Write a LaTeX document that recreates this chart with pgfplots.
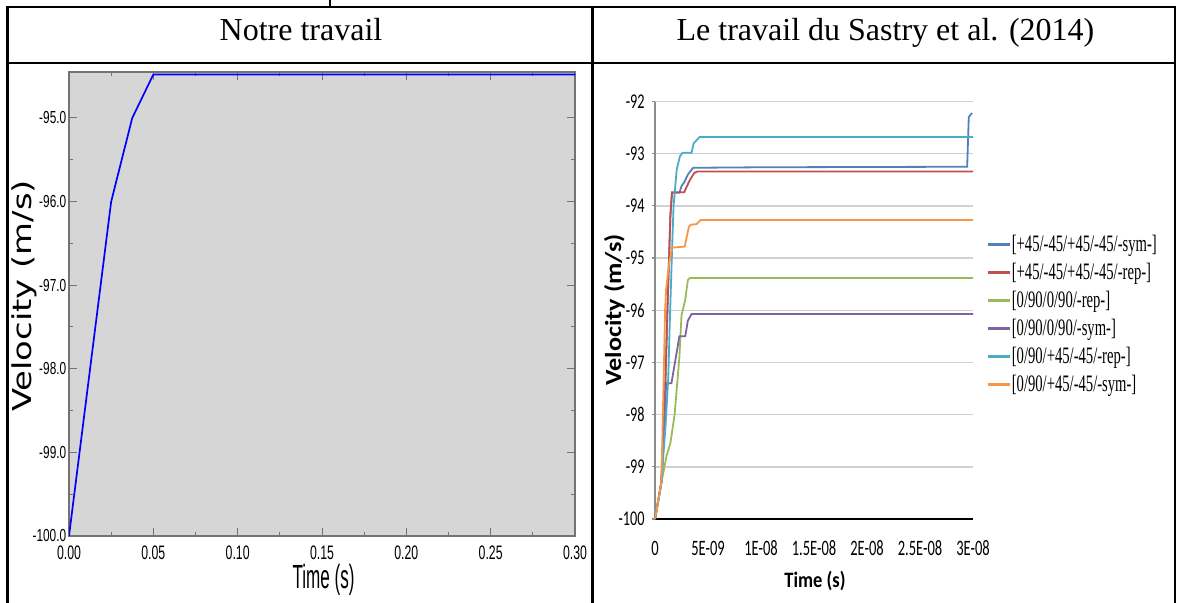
\documentclass[border=0pt]{standalone}
\usepackage{fontspec}
\setmainfont{Liberation Serif}
\usepackage{pgfplots}
\pgfplotsset{compat=1.18}
\newfontfamily\headfam{Liberation Serif}
\newfontfamily\lytickfam[FakeStretch=0.68]{Liberation Sans}
\newfontfamily\lxtickfam[FakeStretch=0.63]{Liberation Sans}
\newfontfamily\ltimefam[FakeStretch=0.51]{Liberation Sans}
\newfontfamily\lvelfam[FakeStretch=1.3]{DejaVu Sans}
\newfontfamily\rytickfam[FakeStretch=0.68]{Carlito}
\newfontfamily\rxtickfam[FakeStretch=0.66]{Carlito}
\newfontfamily\rtimefam[FakeStretch=0.84]{Carlito}
\newfontfamily\rvelfam[FakeStretch=1.14]{Carlito}
\newfontfamily\legfam[FakeStretch=0.62]{Liberation Serif}
\newcommand\lytick{\lytickfam\fontsize{8.7pt}{10pt}\selectfont}
\newcommand\lxtick{\lxtickfam\fontsize{9.75pt}{11pt}\selectfont}
\newcommand\rytick{\rytickfam\fontsize{10.5pt}{12pt}\selectfont}
\newcommand\rxtick{\rxtickfam\fontsize{11pt}{13pt}\selectfont}
\newcommand\legf{\legfam\fontsize{11.8pt}{13pt}\selectfont}
\definecolor{lgray}{HTML}{D6D6D6}
\definecolor{xblue}{HTML}{4F81BD}
\definecolor{xred}{HTML}{C0504D}
\definecolor{xgreen}{HTML}{9BBB59}
\definecolor{xpurple}{HTML}{8064A2}
\definecolor{xcyan}{HTML}{4BACC6}
\definecolor{xorange}{HTML}{F79646}
\begin{document}
\begin{tikzpicture}
\useasboundingbox (0,0) rectangle (588.5pt,-301.5pt);
% table rules
\draw[line width=1.4pt] (3.05pt,-3.5pt) -- (588.2pt,-3.5pt);
\draw[line width=1.4pt] (3.05pt,-31.5pt) -- (588.2pt,-31.5pt);
\draw[line width=1.4pt] (3.75pt,-2.8pt) -- (3.75pt,-301.5pt);
\draw[line width=1.4pt] (296.25pt,-2.8pt) -- (296.25pt,-301.5pt);
\draw[line width=1.4pt] (587.5pt,-2.8pt) -- (587.5pt,-301.5pt);
\draw[line width=1.4pt] (165pt,0pt) -- (165pt,-3.5pt);
\node[anchor=base, inner sep=0pt, font=\headfam\fontsize{16pt}{19pt}\selectfont] at (150.5pt,-20.5pt) {Notre travail};
\node[anchor=base, inner sep=0pt, font=\headfam\fontsize{16pt}{19pt}\selectfont] at (442.75pt,-20.5pt) {Le travail du Sastry et al. (2014)};

% ---------- left chart ----------
\begin{axis}[
  at={(34.5pt,-268pt)}, anchor=south west,
  scale only axis, width=253pt, height=232pt,
  xmin=0, xmax=0.3, ymin=-100, ymax=-94.45,
  axis background/.style={fill=lgray},
  axis line style={draw=black!55, line width=0.6pt},
  xtick={0,0.05,0.1,0.15,0.2,0.25,0.3},
  xticklabels={0.00,0.05,0.10,0.15,0.20,0.25,0.30},
  ytick={-100,-99,-98,-97,-96,-95},
  yticklabels={-100.0,-99.0,-98.0,-97.0,-96.0,-95.0},
  minor x tick num=1, minor y tick num=1,
  tick align=inside,
  major tick length=4pt, minor tick length=2pt,
  every tick/.style={draw=black!55, line width=0.5pt},
  xticklabel style={font=\lxtick, anchor=north, inner sep=0pt, text height=7pt, text depth=0pt, yshift=-4.5pt},
  yticklabel style={font=\lytick, anchor=east, inner sep=0pt, xshift=-1.2pt},
]
\addplot[color={rgb,255:red,0;green,0;blue,255}, line width=0.85pt] coordinates {
  (0,-100) (0.025,-96) (0.0375,-95) (0.05,-94.48) (0.3,-94.48)};
\end{axis}
\node[anchor=base, inner sep=0pt, rotate=90, font=\lvelfam\fontsize{13pt}{15pt}\selectfont] at (16pt,-148pt) {Velocity (m/s)};
\node[anchor=base, inner sep=0pt, font=\ltimefam\fontsize{16.75pt}{19pt}\selectfont] at (161.75pt,-294pt) {Time (s)};

% ---------- right chart ----------
\begin{axis}[
  at={(327.5pt,-259.5pt)}, anchor=south west,
  scale only axis, width=159pt, height=208.75pt,
  xmin=0, xmax=30, ymin=-100, ymax=-92,
  axis x line*=bottom, axis y line*=left,
  x axis line style={draw=black, line width=1pt, -},
  y axis line style={draw=black!45, line width=0.6pt, -},
  ymajorgrids, grid style={draw=black!18, line width=0.7pt},
  xtick={0,5,10,15,20,25,30},
  xticklabels={0,5E-09,1E-08,1.5E-08,2E-08,2.5E-08,3E-08},
  ytick={-100,-99,-98,-97,-96,-95,-94,-93,-92},
  yticklabels={-100,-99,-98,-97,-96,-95,-94,-93,-92},
  xtick style={draw=none},
  ytick style={draw=black!45, line width=0.6pt},
  tick align=outside, major tick length=1.5pt,
  xticklabel style={font=\rxtick, anchor=north, inner sep=0pt, text height=7pt, text depth=0pt, yshift=-9.5pt},
  yticklabel style={font=\rytick, anchor=east, inner sep=0pt, xshift=-3.5pt},
  legend cell align=left,
  legend style={at={(1.041,0.675)}, anchor=north west, draw=none, fill=none,
    inner sep=0pt, row sep=0pt, column sep=0.5pt, font=\legf,
    nodes={inner sep=0pt, text height=7pt, text depth=7pt}},
  legend image code/.code={\draw[#1, line width=1.2pt] (0pt,3.5pt) -- (11pt,3.5pt);},
]
\addplot[xblue, line width=0.9pt] coordinates {
  (0,-100) (0.6,-99.3) (0.95,-97.6) (1.2,-95.8) (1.45,-94.2) (1.6,-93.75) (2.3,-93.75)
  (2.5,-93.62) (2.75,-93.55) (3.1,-93.4) (3.6,-93.27) (10,-93.26) (29.45,-93.25)
  (29.6,-92.3) (29.9,-92.22)};
\addlegendentry{\relax[+45/-45/+45/-45/-sym-]}
\addplot[xred, line width=0.9pt] coordinates {
  (0,-100) (0.6,-99.3) (0.95,-97.6) (1.2,-95.8) (1.45,-94.2) (1.6,-93.74) (2.75,-93.74)
  (2.95,-93.65) (3.3,-93.5) (3.7,-93.37) (4.0,-93.34) (30,-93.34)};
\addlegendentry{\relax[+45/-45/+45/-45/-rep-]}
\addplot[xgreen, line width=0.9pt] coordinates {
  (0,-100) (0.6,-99.3) (1.1,-98.78) (1.45,-98.55) (1.85,-98.0) (2.3,-96.9) (2.5,-96.1)
  (2.85,-95.8) (3.1,-95.42) (3.3,-95.38) (30,-95.38)};
\addlegendentry{\relax[0/90/0/90/-rep-]}
\addplot[xpurple, line width=0.9pt] coordinates {
  (0,-100) (0.6,-99.3) (0.9,-98.2) (1.05,-97.4) (1.55,-97.4) (2.3,-96.5) (2.85,-96.5)
  (3.1,-96.2) (3.45,-96.07) (30,-96.07)};
\addlegendentry{\relax[0/90/0/90/-sym-]}
\addplot[xcyan, line width=0.9pt] coordinates {
  (0,-100) (0.6,-99.3) (1.0,-98.2) (1.25,-97.3) (1.4,-96.2) (1.6,-94.9) (1.75,-94.0)
  (2.05,-93.3) (2.35,-93.05) (2.6,-92.98) (3.45,-92.98) (3.65,-92.8) (4.2,-92.68) (30,-92.68)};
\addlegendentry{\relax[0/90/+45/-45/-rep-]}
\addplot[xorange, line width=0.9pt] coordinates {
  (0,-100) (0.6,-99.3) (0.85,-97.0) (0.95,-96.0) (1.05,-95.6) (1.3,-95.15) (1.6,-94.8)
  (2.8,-94.78) (3.2,-94.4) (3.4,-94.36) (3.9,-94.35) (4.3,-94.27) (30,-94.27)};
\addlegendentry{\relax[0/90/+45/-45/-sym-]}
\end{axis}
\node[anchor=base, inner sep=0pt, rotate=90, font=\rvelfam\bfseries\fontsize{11.5pt}{13pt}\selectfont] at (310.5pt,-155pt) {Velocity (m/s)};
\node[anchor=base, inner sep=0pt, font=\rtimefam\bfseries\fontsize{11pt}{13pt}\selectfont] at (407.5pt,-293.5pt) {Time (s)};
\end{tikzpicture}
\end{document}
